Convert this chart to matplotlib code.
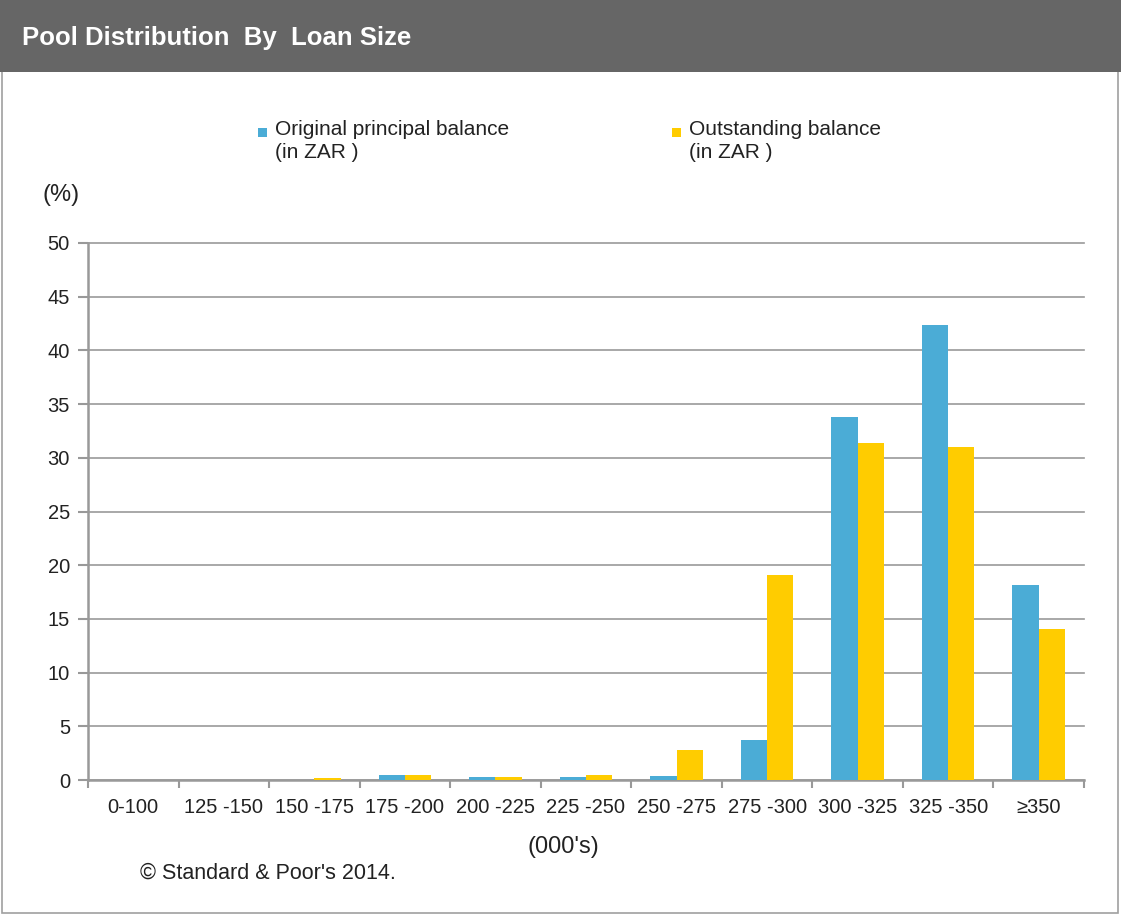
import numpy as np
import matplotlib.pyplot as plt
from matplotlib.patches import Rectangle

plt.rcParams['font.family'] = ['Liberation Sans', 'DejaVu Sans']

# data
categories = ['0-100', '125 -150', '150 -175', '175 -200', '200 -225', '225 -250',
              '250 -275', '275 -300', '300 -325', '325 -350', '\u2265350']
original = [0, 0, 0, 0.45, 0.25, 0.25, 0.4, 3.75, 33.8, 42.4, 18.2]
outstanding = [0, 0, 0.2, 0.45, 0.25, 0.45, 2.8, 19.1, 31.4, 31.0, 14.1]
series_names = ['Original principal balance\n(in ZAR )', 'Outstanding balance\n(in ZAR )']
series_colors = ['#4BACD6', '#FFCC00']
yticks = [0, 5, 10, 15, 20, 25, 30, 35, 40, 45, 50]

W, H = 1121, 916
fig = plt.figure(figsize=(W / 100, H / 100), dpi=100)
txt = '#222222'

def fx(px):
    return px / W

def fy(py):
    return 1 - py / H

# frame and header
fig.patches.append(Rectangle((fx(2), fy(913)), fx(1116), 911 / H, transform=fig.transFigure,
                             facecolor='none', edgecolor='#a0a0a0', lw=1.2))
fig.patches.append(Rectangle((0, fy(72)), 1, 72 / H, transform=fig.transFigure,
                             facecolor='#666666', edgecolor='none'))
fig.text(fx(22), fy(38), 'Pool Distribution  By  Loan Size', color='white', fontsize=18.5,
         fontweight='bold', va='center', ha='left')

ax = fig.add_axes([fx(88), fy(780), fx(1084) - fx(88), (780 - 243) / H])
x = np.arange(len(categories))
bw = 0.29
ax.bar(x - bw / 2, original, width=bw, color=series_colors[0], zorder=3)
ax.bar(x + bw / 2, outstanding, width=bw, color=series_colors[1], zorder=3)

ax.set_xlim(-0.5, len(categories) - 0.5)
ax.set_ylim(0, 50)
ax.set_yticks(yticks)
ax.set_xticks(x)
ax.set_xticklabels(categories, fontsize=14.5, color=txt)
ax.set_xticks(np.arange(-0.5, len(categories)), minor=True)
ax.tick_params(axis='x', which='major', length=0, pad=13)
ax.tick_params(axis='x', which='minor', length=6, width=1.5, color='#999999', direction='out')
ax.tick_params(axis='y', length=7, width=1.5, color='#999999', labelsize=14.5,
               labelcolor=txt, pad=6)
ax.grid(axis='y', color='#999999', lw=1.2, zorder=0)
for gl in ax.get_ygridlines():
    gl.set_clip_on(False)
for s in ['top', 'right']:
    ax.spines[s].set_visible(False)
for s in ['left', 'bottom']:
    ax.spines[s].set_color('#999999')
    ax.spines[s].set_linewidth(1.8)

# legend
for i, (name, c) in enumerate(zip(series_names, series_colors)):
    lx = [258, 672][i]
    fig.patches.append(Rectangle((fx(lx), fy(137)), fx(9), 9 / H, transform=fig.transFigure,
                                 facecolor=c, edgecolor='none'))
    fig.text(fx(lx + 17), fy(120), name, fontsize=15, color=txt, va='top', ha='left',
             linespacing=1.25)

fig.text(fx(61), fy(195), '(%)', fontsize=17, color=txt, ha='center', va='center')
fig.text(fx(563), fy(847), "(000's)", fontsize=17, color=txt, ha='center', va='center')
fig.text(fx(140), fy(873), "\u00a9 Standard & Poor's 2014.", fontsize=15.5, color=txt,
         ha='left', va='center')

fig.savefig('out.png', dpi=100)
